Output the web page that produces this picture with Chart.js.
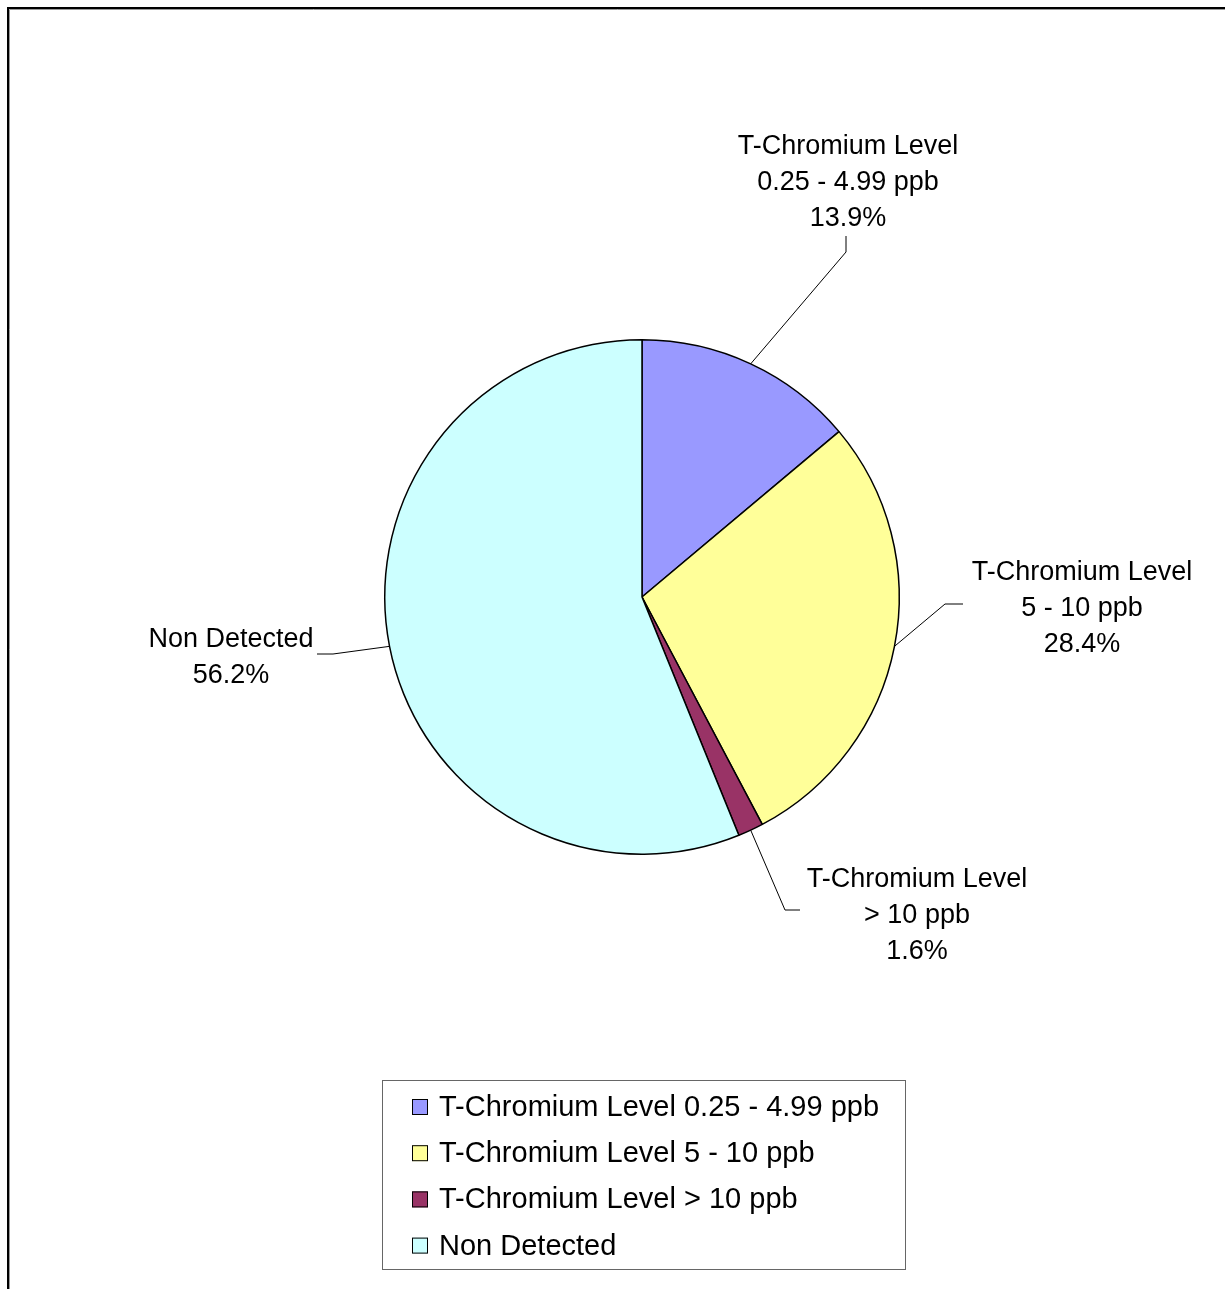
<!DOCTYPE html>
<html>
<head>
<meta charset="utf-8">
<script src="https://cdn.jsdelivr.net/npm/chart.js@4/dist/chart.umd.min.js"></script>
<style>
  html, body { margin: 0; padding: 0; background: #fff; }
  #wrap { width: 1225px; height: 1289px; position: relative; }
</style>
</head>
<body>
<div id="wrap"><canvas id="pie"></canvas></div>
<script>
// chart data
const categories = [
    "T-Chromium Level 0.25 - 4.99 ppb",
    "T-Chromium Level 5 - 10 ppb",
    "T-Chromium Level > 10 ppb",
    "Non Detected"
];
const labelLines = [
    ["T-Chromium Level", "0.25 - 4.99 ppb"],
    ["T-Chromium Level", "5 - 10 ppb"],
    ["T-Chromium Level", "> 10 ppb"],
    ["Non Detected"]
];
const percents = [13.9, 28.4, 1.6, 56.2];
const colors = ["#9999FF", "#FFFF99", "#993366", "#CCFFFF"];

// where the data labels sit, relative to the pie centre
// elbow = leader bend, stub = end of short straight piece, tx/ty = text centre / first line
const labelPlace = [
    { elbow: [204, -345], stub: [204, -361], tx: 206, ty: -450 },
    { elbow: [303, 7], stub: [321, 7], tx: 440, ty: -24 },
    { elbow: [143, 313], stub: [158, 313], tx: 275, ty: 283 },
    { elbow: [-309, 57], stub: [-325, 57], tx: -411, ty: 43 }
];

const FONT = "'Liberation Sans', Arial, sans-serif";

function drawFrame(ctx){
    ctx.save();
    ctx.strokeStyle = "#000";
    ctx.lineWidth = 2;
    ctx.beginPath();
    ctx.moveTo(8, 1289);
    ctx.lineTo(8, 8);
    ctx.lineTo(1225, 8);
    ctx.stroke();
    ctx.strokeStyle = "#999";
    ctx.lineWidth = 1;
    ctx.beginPath();
    ctx.moveTo(9.5, 1289);
    ctx.lineTo(9.5, 9.5);
    ctx.lineTo(1225, 9.5);
    ctx.stroke();
    ctx.restore();
}

const labelPlugin = {
    id: 'pieLabels',
    beforeDraw(chart){
        const ctx = chart.ctx;
        ctx.save();
        ctx.fillStyle = "#fff";
        ctx.fillRect(0, 0, chart.width, chart.height);
        ctx.restore();
        drawFrame(ctx);
    },
    afterDraw(chart){
        const ctx = chart.ctx;
        const arcs = chart.getDatasetMeta(0).data;
        ctx.save();
        arcs.forEach((arc, i) => {
            const p = labelPlace[i];
            const mid = (arc.startAngle + arc.endAngle) / 2;
            const ax = arc.x + Math.cos(mid) * arc.outerRadius;
            const ay = arc.y + Math.sin(mid) * arc.outerRadius;
            ctx.strokeStyle = "#000";
            ctx.lineWidth = 1;
            ctx.beginPath();
            ctx.moveTo(ax, ay);
            ctx.lineTo(arc.x + p.elbow[0], arc.y + p.elbow[1]);
            ctx.lineTo(arc.x + p.stub[0], arc.y + p.stub[1]);
            ctx.stroke();

            const lines = labelLines[i].concat([percents[i].toFixed(1) + "%"]);
            ctx.fillStyle = "#000";
            ctx.font = "27px " + FONT;
            ctx.textAlign = "center";
            ctx.textBaseline = "middle";
            lines.forEach((t, k) => {
                ctx.fillText(t, arc.x + p.tx, arc.y + p.ty + k * 35.7);
            });
        });

        // legend box
        ctx.strokeStyle = "#666";
        ctx.lineWidth = 1;
        ctx.strokeRect(382.5, 1080.5, 523, 189);
        ctx.font = "29px " + FONT;
        ctx.textAlign = "left";
        ctx.textBaseline = "middle";
        categories.forEach((c, i) => {
            const y = 1107 + i * 46.2;
            ctx.fillStyle = colors[i];
            ctx.fillRect(412, y - 8, 16, 16);
            ctx.strokeStyle = "#000";
            ctx.strokeRect(412.5, y - 7.5, 15, 15);
            ctx.fillStyle = "#000";
            ctx.fillText(c, 439, y + 1);
        });
        ctx.restore();
    }
};

const ctx = document.getElementById("pie");
new Chart(ctx, {
    type: 'pie',
    data: {
        labels: categories,
        datasets: [{
            data: percents,
            backgroundColor: colors,
            borderColor: "#000",
            borderWidth: 1.5
        }]
    },
    options: {
        responsive: true,
        maintainAspectRatio: false,
        animation: false,
        layout: { padding: { left: 384, right: 325, top: 339, bottom: 434 } },
        plugins: {
            legend: { display: false },
            tooltip: { enabled: false }
        },
        events: []
    },
    plugins: [labelPlugin]
});
</script>
</body>
</html>
